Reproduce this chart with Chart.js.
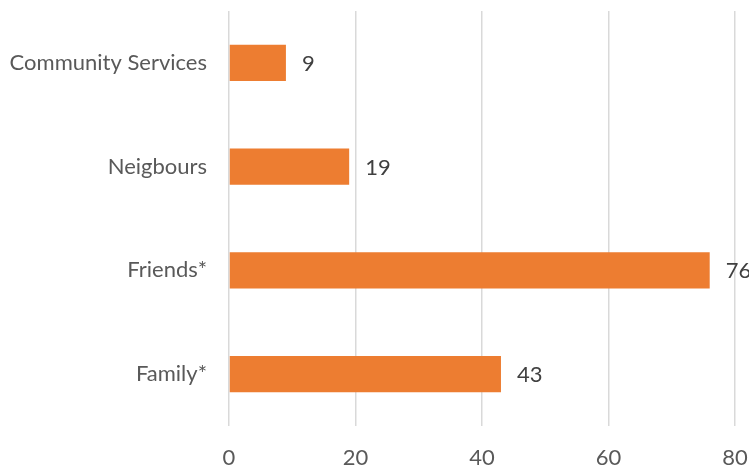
<!DOCTYPE html>
<html>
<head>
<meta charset="utf-8">
<script src="https://cdn.jsdelivr.net/npm/chart.js@4.4.1/dist/chart.umd.min.js"></script>
<style>
  html, body { margin: 0; padding: 0; background: #ffffff; }
  #wrap { width: 749px; height: 467px; position: relative; }
</style>
</head>
<body>
<div id="wrap"><canvas id="chart"></canvas></div>
<script>
// Sources of support
const categories = ['Community Services', 'Neigbours', 'Friends*', 'Family*'];
const values = [9, 19, 76, 43];
const axisMin = 0;
const axisMax = 80;
const axisStep = 20;

const textColor = '#595959';
const valueColor = '#404040';
const fontFamily = 'Lato, "Open Sans", sans-serif';

// Writes each bar's value just past its end
const valueLabels = {
  id: 'valueLabels',
  afterDatasetsDraw(chart) {
    const ctx = chart.ctx;
    const meta = chart.getDatasetMeta(0);
    ctx.save();
    ctx.font = '22px ' + fontFamily;
    ctx.fillStyle = valueColor;
    ctx.textAlign = 'left';
    ctx.textBaseline = 'middle';
    meta.data.forEach((bar, i) => {
      ctx.fillText(String(values[i]), bar.x + 16, bar.y + 1);
    });
    ctx.restore();
  }
};

new Chart(document.getElementById('chart'), {
  type: 'bar',
  data: {
    labels: categories,
    datasets: [{
      data: values,
      backgroundColor: '#ED7D31',
      borderWidth: 0,
      barPercentage: 0.7,
      categoryPercentage: 0.5
    }]
  },
  options: {
    indexAxis: 'y',
    responsive: true,
    maintainAspectRatio: false,
    animation: false,
    layout: { padding: { top: 11, right: 14, bottom: 0, left: 0 } },
    plugins: {
      legend: { display: false },
      tooltip: { enabled: false }
    },
    scales: {
      x: {
        min: axisMin,
        max: axisMax,
        ticks: {
          stepSize: axisStep,
          color: textColor,
          font: { family: fontFamily, size: 22 },
          padding: 19
        },
        grid: { color: '#d9d9d9', lineWidth: 1.5, drawTicks: false },
        border: { display: false },
        afterFit(scale) {
          scale.height = 41;
          scale.paddingLeft = 0;
          scale.paddingRight = 0;
        }
      },
      y: {
        ticks: {
          color: textColor,
          font: { family: fontFamily, size: 22 },
          padding: 22
        },
        grid: { display: false, drawTicks: false },
        border: { display: false },
        afterFit(scale) {
          scale.width = 229;
          scale.paddingTop = 0;
          scale.paddingBottom = 0;
        }
      }
    }
  },
  plugins: [valueLabels]
});
</script>
</body>
</html>
